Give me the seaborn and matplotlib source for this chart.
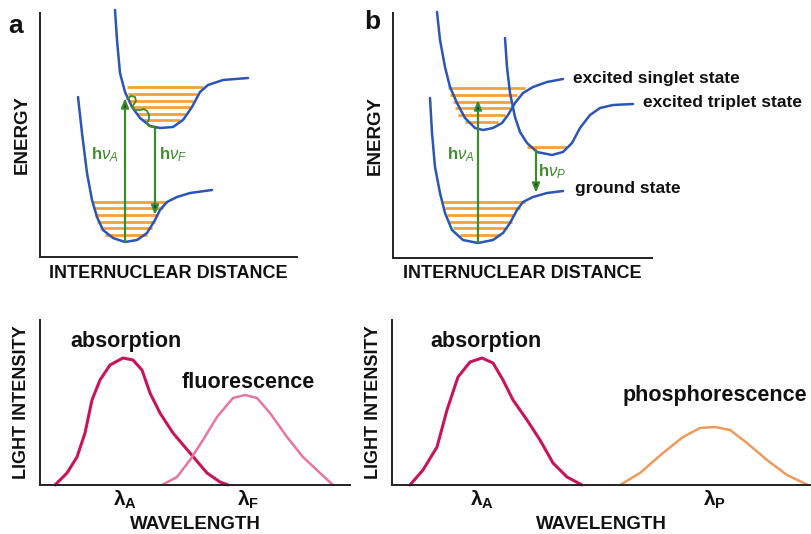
import matplotlib
matplotlib.use("Agg")
import matplotlib.pyplot as plt
import seaborn as sns

sns.set_style("white")
plt.rcParams["font.family"] = ["Liberation Sans", "DejaVu Sans"]
plt.rcParams["text.color"] = "#111111"
plt.rcParams["axes.labelcolor"] = "#111111"
plt.rcParams["xtick.color"] = "#111111"
plt.rcParams["mathtext.fontset"] = "custom"
plt.rcParams["mathtext.rm"] = "Liberation Sans"
plt.rcParams["mathtext.it"] = "Liberation Sans:italic"
plt.rcParams["mathtext.bf"] = "Liberation Sans:bold"

BLUE = "#2b55b8"
ORANGE = "#f2a235"
GREEN = "#3c8c2c"
ABS_COL = "#c8145a"
FLU_COL = "#e8769c"
PHO_COL = "#ee9a5c"

# ---- panel a: potential energy curves (distance, energy) ----
a_ground_x = [38, 42, 47, 52, 57, 63, 73, 85, 97, 107, 115, 120, 127, 137, 150, 172]
a_ground_y = [160, 124, 84, 57, 40, 27, 19, 15, 17, 24, 37, 47, 55, 60, 64, 67]
a_excit_x = [75, 77, 80, 85, 92, 100, 110, 120, 133, 143, 152, 160, 168, 183, 208]
a_excit_y = [247, 217, 184, 165, 150, 139, 131, 129, 130, 137, 150, 165, 172, 177, 179]
# vibrational levels: energy, start, end
a_ground_lvl = [55, 49, 42, 35, 29, 22]
a_ground_lvl_x0 = [52, 53, 55, 57, 60, 65]
a_ground_lvl_x1 = [127, 123, 118, 115, 112, 107]
a_excit_lvl = [170, 163, 156, 150, 143, 137]
a_excit_lvl_x0 = [87, 88, 89, 92, 97, 102]
a_excit_lvl_x1 = [163, 157, 153, 150, 145, 140]
# relaxation squiggle
a_relax_x = [87, 91, 95, 96, 94, 92, 95, 100, 104, 107, 109, 109, 107, 109, 113, 116]
a_relax_y = [158, 161, 160, 156, 153, 150, 147, 147, 148, 146, 142, 138, 134, 131, 130, 129]
# transitions: x, from, to
a_abs = (85, 15, 159)
a_flu = (115, 129, 42)

# ---- panel b ----
b_ground_x = [37, 39, 42, 47, 52, 59, 70, 85, 100, 110, 117, 124, 130, 140, 154, 170]
b_ground_y = [160, 125, 91, 65, 45, 28, 18, 15, 18, 25, 35, 48, 56, 61, 65, 67]
b_singlet_x = [44, 47, 52, 57, 64, 72, 82, 90, 100, 109, 115, 122, 130, 140, 154, 170]
b_singlet_y = [246, 218, 191, 171, 155, 140, 130, 128, 130, 135, 143, 155, 165, 171, 176, 179]
b_triplet_x = [112, 114, 117, 122, 127, 134, 144, 159, 170, 179, 187, 197, 207, 220, 240]
b_triplet_y = [220, 191, 165, 141, 126, 115, 106, 103, 106, 115, 130, 143, 150, 153, 154]
b_ground_lvl = [56, 50, 43, 36, 30, 23]
b_ground_lvl_x0 = [50, 52, 54, 56, 60, 67]
b_ground_lvl_x1 = [132, 127, 122, 119, 114, 107]
b_singlet_lvl = [170, 163, 156, 150, 143, 136]
b_singlet_lvl_x0 = [55, 57, 60, 62, 65, 72]
b_singlet_lvl_x1 = [132, 124, 119, 117, 112, 105]
b_triplet_lvl = [111]
b_triplet_lvl_x0 = [134]
b_triplet_lvl_x1 = [174]
b_abs = (85, 15, 158)
b_pho = (143, 108, 65)

# ---- spectra (wavelength, intensity) ----
c_abs_x = [15, 27, 37, 45, 52, 60, 70, 83, 93, 102, 110, 120, 133, 150, 167, 180, 188]
c_abs_y = [0, 12, 28, 52, 85, 105, 120, 127, 125, 115, 92, 72, 52, 32, 12, 3, 0]
c_flu_x = [122, 137, 150, 163, 177, 193, 205, 217, 230, 247, 263, 280, 293]
c_flu_y = [0, 8, 25, 45, 68, 87, 90, 87, 72, 48, 28, 12, 0]
c_ticks = [85, 208]
c_ticklabels = [r"$\mathbf{\lambda_A}$", r"$\mathbf{\lambda_F}$"]

d_abs_x = [18, 31, 45, 55, 66, 78, 90, 101, 111, 121, 135, 148, 161, 175, 190]
d_abs_y = [0, 15, 38, 75, 108, 123, 127, 122, 105, 85, 65, 45, 22, 8, 0]
d_pho_x = [228, 248, 271, 291, 308, 323, 338, 355, 375, 395, 416]
d_pho_y = [0, 12, 32, 48, 57, 58, 55, 42, 25, 10, 0]
d_ticks = [90, 323]
d_ticklabels = [r"$\mathbf{\lambda_A}$", r"$\mathbf{\lambda_P}$"]

W, H = 811, 534
fig = plt.figure(figsize=(W / 100, H / 100), dpi=100)


def px_axes(left, top, right, bottom):
    return fig.add_axes([left / W, (H - bottom) / H, (right - left) / W, (bottom - top) / H])


def style(ax, xmax, ymax):
    ax.set_xlim(0, xmax)
    ax.set_ylim(0, ymax)
    sns.despine(ax=ax)
    for s in ("left", "bottom"):
        ax.spines[s].set_linewidth(1.4)
        ax.spines[s].set_color("#222222")
    ax.set_yticks([])
    ax.tick_params(axis="x", length=0)
    ax.patch.set_alpha(0)


def curve(ax, xs, ys, color, lw=1.8):
    sns.lineplot(x=xs, y=ys, sort=False, estimator=None, ax=ax, color=color, lw=lw,
                 clip_on=False, solid_capstyle="round", solid_joinstyle="round")


def levels(ax, ys, x0, x1):
    ax.hlines(ys, x0, x1, color=ORANGE, lw=2.0, zorder=1)


def arrow(ax, tr):
    x, y0, y1 = tr
    ax.annotate("", xy=(x, y1), xytext=(x, y0),
                arrowprops=dict(arrowstyle="-|>,head_length=0.55,head_width=0.22",
                                ec=GREEN, fc="#1d3d12", lw=1.6, shrinkA=0, shrinkB=0))


def labels(ax, xl, yl, xpad, ypad, xsize, ysize):
    ax.set_xlabel(xl, fontsize=xsize, fontweight="bold", labelpad=xpad, visible=True)
    ax.set_ylabel(yl, fontsize=ysize, fontweight="bold", labelpad=ypad, visible=True)


hv_kw = dict(color=GREEN, fontsize=12, fontweight="bold", ha="center", va="center")
state_kw = dict(fontsize=12.5, fontweight="bold", va="center")
band_kw = dict(fontsize=15.5, fontweight="bold", va="center")

# panel a
axA = px_axes(40, 13, 297, 257)
style(axA, 257, 244)
axA.set_xticks([])
levels(axA, a_ground_lvl, a_ground_lvl_x0, a_ground_lvl_x1)
levels(axA, a_excit_lvl, a_excit_lvl_x0, a_excit_lvl_x1)
curve(axA, a_ground_x, a_ground_y, BLUE)
curve(axA, a_excit_x, a_excit_y, BLUE)
curve(axA, a_relax_x, a_relax_y, GREEN, lw=1.3)
arrow(axA, a_abs)
arrow(axA, a_flu)
axA.text(65, 102, r"h$\nu_A$", **hv_kw)
axA.text(133, 102, r"h$\nu_F$", **hv_kw)
labels(axA, "INTERNUCLEAR DISTANCE", "ENERGY", 6, 7, 13, 13.5)

# panel b
axB = px_axes(393, 13, 652, 258)
style(axB, 259, 245)
axB.set_xticks([])
levels(axB, b_ground_lvl, b_ground_lvl_x0, b_ground_lvl_x1)
levels(axB, b_singlet_lvl, b_singlet_lvl_x0, b_singlet_lvl_x1)
levels(axB, b_triplet_lvl, b_triplet_lvl_x0, b_triplet_lvl_x1)
curve(axB, b_ground_x, b_ground_y, BLUE)
curve(axB, b_singlet_x, b_singlet_y, BLUE)
curve(axB, b_triplet_x, b_triplet_y, BLUE)
arrow(axB, b_abs)
arrow(axB, b_pho)
axB.text(68, 103, r"h$\nu_A$", **hv_kw)
axB.text(159, 86, r"h$\nu_P$", **hv_kw)
axB.text(180, 180, "excited singlet state", **state_kw)
axB.text(250, 155, "excited triplet state", **state_kw)
axB.text(182, 70, "ground state", **state_kw)
labels(axB, "INTERNUCLEAR DISTANCE", "ENERGY", 5, 7, 13, 13.5)

# spectrum a
axC = px_axes(40, 320, 350, 485)
style(axC, 310, 165)
curve(axC, c_abs_x, c_abs_y, ABS_COL, lw=2.2)
curve(axC, c_flu_x, c_flu_y, FLU_COL, lw=1.8)
axC.set_xticks(c_ticks, c_ticklabels, fontsize=15)
axC.tick_params(axis="x", pad=3)
axC.text(30, 143, "absorption", **band_kw)
axC.text(142, 103, "fluorescence", **band_kw)
labels(axC, "WAVELENGTH", "LIGHT INTENSITY", 3, 7, 13.5, 13)

# spectrum b
axD = px_axes(392, 320, 811, 485)
style(axD, 419, 165)
curve(axD, d_abs_x, d_abs_y, ABS_COL, lw=2.2)
curve(axD, d_pho_x, d_pho_y, PHO_COL, lw=1.8)
axD.set_xticks(d_ticks, d_ticklabels, fontsize=15)
axD.tick_params(axis="x", pad=3)
axD.text(38, 143, "absorption", **band_kw)
axD.text(231, 90, "phosphorescence", **band_kw)
labels(axD, "WAVELENGTH", "LIGHT INTENSITY", 3, 7, 13.5, 13)

fig.text(8 / W, 1 - 26 / H, "a", fontsize=19, fontweight="bold", va="center")
fig.text(364 / W, 1 - 22 / H, "b", fontsize=19, fontweight="bold", va="center")

fig.savefig("out.png", dpi=100, facecolor="white")
